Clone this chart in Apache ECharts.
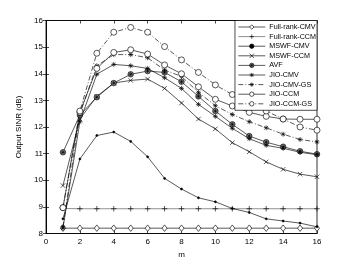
<!DOCTYPE html>
<html><head><meta charset="utf-8">
<script src="https://cdn.jsdelivr.net/npm/echarts@6/dist/echarts.min.js"></script>
<style>html,body{margin:0;padding:0;background:#fff}#c{width:350px;height:264px}</style>
</head><body><div id="c"></div>
<script>
var m = [1,2,3,4,5,6,7,8,9,10,11,12,13,14,15,16];
var xTicks = [0,2,4,6,8,10,12,14,16];
var yTicks = [8,9,10,11,12,13,14,15,16];
var fullRankCMV = [8.2,8.2,8.2,8.2,8.2,8.2,8.2,8.2,8.2,8.2,8.2,8.2,8.2,8.2,8.2,8.2];
var fullRankCCM = [8.94,8.93,8.93,8.93,8.93,8.93,8.93,8.93,8.93,8.93,8.93,8.93,8.93,8.93,8.93,8.93];
var mswfCMV = [8.55,10.8,11.68,11.81,11.46,10.88,10.07,9.67,9.34,9.19,8.94,8.79,8.55,8.47,8.39,8.25];
var mswfCCM = [9.8,12.3,13.15,13.65,13.75,13.8,13.45,12.9,12.3,11.93,11.41,11.07,10.69,10.41,10.23,10.13];
var avf = [11.05,12.45,13.12,13.65,13.98,14.1,14.05,13.7,13.15,12.6,12.1,11.66,11.43,11.26,11.09,10.98];
var jioCMV = [8.2,12.2,13.98,14.35,14.3,14.2,13.85,13.45,12.85,12.4,11.95,11.56,11.31,11.2,11.05,10.96];
var jioCMVGS = [8.25,12.5,14.3,14.72,14.72,14.6,14.14,13.9,13.3,12.8,12.47,12.2,11.97,11.73,11.53,11.44];
var jioCCM = [8.97,12.55,14.2,14.8,14.9,14.74,14.33,14.0,13.51,13.04,12.79,12.55,12.4,12.3,12.29,12.29];
var jioCCMGS = [8.97,12.6,14.77,15.56,15.74,15.56,15.02,14.52,14.05,13.58,13.22,12.9,12.6,12.3,12.0,11.88];
var names = ['Full-rank-CMV','Full-rank-CCM','MSWF-CMV','MSWF-CCM','AVF','JIO-CMV','JIO-CMV-GS','JIO-CCM','JIO-CCM-GS'];

var FONT = 'Liberation Sans';
var PLUS = 'path://M5,0L5,10M0,5L10,5';
var CROSS = 'path://M1,1L9,9M9,1L1,9';
var STAR = 'path://M5,0L5,10M0,5L10,5M1.5,1.5L8.5,8.5M8.5,1.5L1.5,8.5';
var CIRCSTAR = 'path://M10,5A5,5,0,1,1,0,5A5,5,0,1,1,10,5ZM5,1L5,9M1,5L9,5M2.2,2.2L7.8,7.8M7.8,2.2L2.2,7.8';
var DASHDOT = [5,2,1,2];

function pairs(a){ return a.map(function(v,i){ return [m[i], v]; }); }
var legendData = [];
function mk(name, data, sym, size, dash, fill, lineColor){
  var ls = {color: lineColor || '#000', width:0.65, type: dash || 'solid'};
  var is = {color: fill || '#fff', borderColor:'#000', borderWidth:0.65};
  legendData.push({name:name, itemStyle: Object.assign({}, is), lineStyle: Object.assign({}, ls)});
  return {
    name: name, type: 'line', data: pairs(data), symbol: sym, symbolSize: size,
    color: '#000',
    lineStyle: ls, itemStyle: is,
    emphasis:{disabled:true}, animation:false, z: 3
  };
}
var series = [
  mk(names[0], fullRankCMV, 'diamond', [5,6.5]),
  mk(names[1], fullRankCCM, PLUS, 5.5, null, null, '#555'),
  mk(names[2], mswfCMV, 'circle', 2, null, '#000'),
  mk(names[3], mswfCCM, CROSS, 4.5),
  mk(names[4], avf, CIRCSTAR, 5.5, null, '#999'),
  mk(names[5], jioCMV, STAR, 5),
  mk(names[6], jioCMVGS, STAR, 5, DASHDOT),
  mk(names[7], jioCCM, 'circle', 6),
  mk(names[8], jioCCMGS, 'circle', 6, DASHDOT)
];

var chart = echarts.init(document.getElementById('c'), null, {renderer:'canvas'});
var lab = {fontFamily: FONT, fontSize: 8, color:'#000'};
chart.setOption({
  backgroundColor:'#fff',
  animation:false,
  grid:{left:46, right:33, top:20.5, bottom:30.5, show:true, borderColor:'#000', borderWidth:0.8, backgroundColor:'#fff'},
  legend:{
    data:legendData, orient:'vertical', right:33, top:20.5, itemWidth:27, itemHeight:5.5, itemGap:2.6,
    backgroundColor:'#fff', borderColor:'#000', borderWidth:0.7, padding:[3,1,3,3],
    textStyle:{fontFamily:FONT, fontSize:7.2, color:'#000', padding:[0,0,0,-1]},
    lineStyle:{width:0.65, color:'#000'},
    itemStyle:{color:'#fff', borderColor:'#000', borderWidth:0.65},
    selectedMode:false
  },
  xAxis:[{
    type:'value', min:0, max:16, interval:2, name:'m', nameLocation:'middle', nameGap:8,
    nameTextStyle:lab,
    axisLine:{show:true, lineStyle:{color:'#000', width:0.8}},
    axisTick:{inside:true, length:3, lineStyle:{color:'#000', width:0.7}},
    axisLabel:Object.assign({margin:4}, lab),
    splitLine:{show:false}
  },{
    type:'value', min:0, max:16, interval:2, position:'top',
    axisLine:{show:true, lineStyle:{color:'#000', width:0.8}},
    axisTick:{inside:true, length:3, lineStyle:{color:'#000', width:0.7}},
    axisLabel:{show:false}, splitLine:{show:false}
  }],
  yAxis:[{
    type:'value', min:8, max:16, interval:1, name:'Output SINR (dB)', nameLocation:'middle', nameGap:10,
    nameTextStyle:lab,
    axisLine:{show:true, lineStyle:{color:'#000', width:0.8}},
    axisTick:{inside:true, length:3, lineStyle:{color:'#000', width:0.7}},
    axisLabel:Object.assign({margin:3}, lab),
    splitLine:{show:false}
  },{
    type:'value', min:8, max:16, interval:1, position:'right',
    axisLine:{show:true, lineStyle:{color:'#000', width:0.8}},
    axisTick:{inside:true, length:3, lineStyle:{color:'#000', width:0.7}},
    axisLabel:{show:false}, splitLine:{show:false}
  }],
  series: series
});
</script></body></html>
